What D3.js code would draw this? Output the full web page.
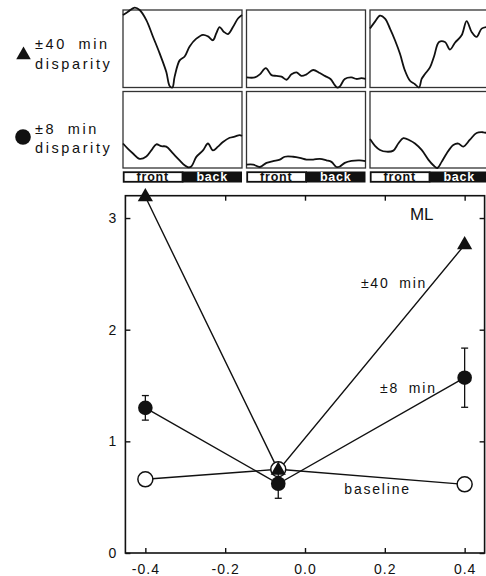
<!DOCTYPE html>
<html>
<head>
<meta charset="utf-8">
<script src="https://cdn.jsdelivr.net/npm/d3@7"></script>
<style>
    body { margin: 0; background: #fff; }
    svg { display: block; font-family: "Liberation Sans", Arial, sans-serif; }
</style>
</head>
<body>
<svg id="figure" width="486" height="576"></svg>
<script>

// Main plot values (disparity on x, response on y)
const disparities = [-0.4, -0.067, 0.4];
const response40 = [3.19, 0.74, 2.76];
const response8 = [1.30, 0.62, 1.57];
const error8 = [0.11, 0.13, 0.265];
const responseBaseline = [0.66, 0.75, 0.615];

const xTickValues = [-0.4, -0.2, 0.0, 0.2, 0.4];
const yTickValues = [0, 1, 2, 3];

// Small tuning curve panels: [fraction across panel, fraction of panel height]
const curve40Left = [[0,.935],[.042,.978],[.098,1.03],[.14,1.0],[.196,.87],[.252,.655],[.308,.44],[.364,.20],[.392,.02],[.415,0],[.434,.14],[.476,.35],[.518,.40],[.56,.53],[.616,.63],[.672,.68],[.714,.66],[.756,.61],[.784,.70],[.812,.78],[.846,.72],[.882,.69],[.924,.78],[.966,.89],[1,.935]];
const curve40Middle = [[0,.13],[.07,.13],[.112,.17],[.162,.25],[.21,.16],[.252,.15],[.294,.14],[.336,.10],[.378,.17],[.42,.195],[.462,.15],[.504,.17],[.56,.226],[.616,.187],[.658,.15],[.706,.11],[.742,.03],[.762,0],[.784,.013],[.826,.11],[.882,.13],[.924,.11],[.966,.12],[1,.11]];
const curve40Right = [[0,.76],[.042,.85],[.084,.926],[.126,.89],[.168,.76],[.21,.61],[.252,.435],[.294,.217],[.336,.087],[.378,.043],[.412,0],[.434,.11],[.462,.174],[.504,.26],[.538,.40],[.58,.587],[.63,.587],[.672,.49],[.714,.578],[.77,.674],[.812,.857],[.854,.717],[.896,.652],[.938,.76],[.98,.78]];
const curve8Left = [[0,.32],[.042,.25],[.084,.19],[.14,.12],[.196,.15],[.238,.23],[.28,.31],[.322,.285],[.364,.28],[.42,.19],[.476,.10],[.518,.035],[.546,.01],[.574,.02],[.616,.145],[.672,.23],[.714,.32],[.756,.23],[.798,.28],[.84,.34],[.896,.395],[.938,.41],[.98,.43],[1,.42]];
const curve8Middle = [[0,.044],[.056,.044],[.112,.013],[.168,.067],[.224,.09],[.28,.11],[.322,.147],[.392,.147],[.448,.133],[.504,.11],[.56,.11],[.616,.12],[.672,.10],[.714,.08],[.756,.013],[.784,.02],[.826,.067],[.882,.093],[.952,.10],[1,.09]];
const curve8Right = [[0,.378],[.042,.29],[.084,.236],[.14,.213],[.196,.227],[.238,.32],[.28,.39],[.336,.36],[.378,.32],[.434,.236],[.49,.11],[.532,.036],[.566,0],[.602,.08],[.644,.19],[.7,.30],[.742,.32],[.784,.28],[.84,.37],[.896,.458],[.952,.467],[.98,.458]];

const barLabels = ["front", "back"];

let figure = {
    svg : d3.select("#figure"),
    ink : "#111",

    panelLefts : [123, 246.5, 370],
    panelWidth : 119,
    rowTops : [10, 91.5],
    rowHeights : [77.5, 76.5],
    barTop : 171.5,
    barHeight : 11,

    x : null,
    y : null
};

drawLegend();
drawPanels();
drawMainChart();

// Symbols and text on the left of the small panels
function drawLegend() {
    let legend = figure.svg.append("g");

    legend.append("path")
        .attr("d", d3.symbol(d3.symbolTriangle).size(92)())
        .attr("transform", "translate(23.5,55)")
        .style("fill", figure.ink);

    legend.append("circle")
        .attr("cx", 23).attr("cy", 137)
        .attr("r", 7.8)
        .style("fill", figure.ink);

    let lines = [
        {text: "±40 min", y: 48.5},
        {text: "disparity", y: 68.5},
        {text: "±8 min", y: 133.5},
        {text: "disparity", y: 153}
    ];

    legend.selectAll("text")
        .data(lines)
        .enter()
        .append("text")
        .attr("x", 35)
        .attr("y", d => d.y)
        .style("font-size", "14.5px")
        .style("letter-spacing", "2.6px")
        .style("word-spacing", "5px")
        .style("fill", figure.ink)
        .text(d => d.text);
}

// Six small tuning curve panels plus the front/back bars
function drawPanels() {
    let rows = [
        [curve40Left, curve40Middle, curve40Right],
        [curve8Left, curve8Middle, curve8Right]
    ];

    let px = d3.scaleLinear().domain([0, 1]).range([0, figure.panelWidth]);

    rows.forEach(function (curves, r) {
        let py = d3.scaleLinear().domain([0, 1]).range([figure.rowHeights[r], 0]);

        curves.forEach(function (curve, c) {
            let panel = figure.svg.append("g")
                .attr("transform", "translate(" + figure.panelLefts[c] + "," + figure.rowTops[r] + ")");

            panel.append("rect")
                .attr("width", figure.panelWidth)
                .attr("height", figure.rowHeights[r])
                .style("fill", "none")
                .style("stroke", "#333")
                .style("stroke-width", 1.3);

            panel.append("path")
                .datum(curve)
                .attr("d", d3.line()
                    .x(d => px(d[0]))
                    .y(d => py(d[1]))
                    .curve(d3.curveCatmullRom.alpha(0.5)))
                .style("fill", "none")
                .style("stroke", figure.ink)
                .style("stroke-width", 1.8);
        });
    });

    // front / back bars under each column
    figure.panelLefts.forEach(function (left) {
        let bar = figure.svg.append("g")
            .attr("transform", "translate(" + left + "," + figure.barTop + ")");
        let half = figure.panelWidth / 2;

        bar.append("rect")
            .attr("x", 0.7).attr("y", 0.7)
            .attr("width", half - 0.7)
            .attr("height", figure.barHeight - 1.4)
            .style("fill", "#fff")
            .style("stroke", figure.ink)
            .style("stroke-width", 1.8);

        bar.append("rect")
            .attr("x", half)
            .attr("width", half)
            .attr("height", figure.barHeight)
            .style("fill", figure.ink);

        bar.selectAll("text")
            .data(barLabels)
            .enter()
            .append("text")
            .attr("x", (d, i) => half * i + half / 2)
            .attr("y", figure.barHeight - 1.2)
            .attr("text-anchor", "middle")
            .style("font-size", "12.5px")
            .style("font-weight", "bold")
            .style("letter-spacing", "0.8px")
            .style("fill", (d, i) => i === 0 ? figure.ink : "#fff")
            .text(d => d);
    });
}

// The large disparity / response plot
function drawMainChart() {
    figure.x = d3.scaleLinear().domain([-0.45, 0.45]).range([125.4, 484.6]);
    figure.y = d3.scaleLinear().domain([0, 3.2]).range([553, 195.7]);

    let x = figure.x, y = figure.y;
    let chart = figure.svg.append("g");
    let [x0, x1] = x.range();
    let [y0, y1] = y.range();

    // Frame
    chart.append("rect")
        .attr("x", x0).attr("y", y1)
        .attr("width", x1 - x0).attr("height", y0 - y1)
        .style("fill", "none")
        .style("stroke", figure.ink)
        .style("stroke-width", 1.6);

    // Axes with inward ticks
    let axes = [
        {axis: d3.axisBottom(x).tickValues(xTickValues).tickFormat(d => d.toFixed(1)).tickPadding(11), t: "translate(0," + y0 + ")"},
        {axis: d3.axisTop(x).tickValues(xTickValues).tickFormat(""), t: "translate(0," + y1 + ")"},
        {axis: d3.axisLeft(y).tickValues(yTickValues).tickFormat(d3.format("d")).tickPadding(8), t: "translate(" + x0 + ",0)"},
        {axis: d3.axisRight(y).tickValues(yTickValues).tickFormat(""), t: "translate(" + x1 + ",0)"}
    ];

    axes.forEach(function (a) {
        let g = chart.append("g")
            .attr("transform", a.t)
            .call(a.axis.tickSizeInner(-5).tickSizeOuter(0));
        g.select(".domain").remove();
        g.selectAll("line").style("stroke", figure.ink).style("stroke-width", 1.4);
        g.selectAll("text")
            .style("font-family", "\"Liberation Sans\", Arial, sans-serif")
            .style("font-size", "14px")
            .style("letter-spacing", "1px")
            .style("fill", figure.ink);
    });

    let line = d3.line()
        .x(d => x(d.x))
        .y(d => y(d.v));

    let toPoints = values => values.map((v, i) => ({x: disparities[i], v: v, e: error8[i]}));
    let points40 = toPoints(response40);
    let points8 = toPoints(response8);
    let pointsBase = toPoints(responseBaseline);

    // Connecting lines
    [pointsBase, points40, points8].forEach(function (pts) {
        chart.append("path")
            .datum(pts)
            .attr("d", line)
            .style("fill", "none")
            .style("stroke", figure.ink)
            .style("stroke-width", 1.4);
    });

    // Baseline open circles
    chart.append("g")
        .selectAll("circle")
        .data(pointsBase)
        .enter()
        .append("circle")
        .attr("cx", d => x(d.x))
        .attr("cy", d => y(d.v))
        .attr("r", 7.5)
        .style("fill", "#fff")
        .style("stroke", figure.ink)
        .style("stroke-width", 1.5);

    // ±40 min triangles
    chart.append("g")
        .selectAll("path")
        .data(points40)
        .enter()
        .append("path")
        .attr("d", d3.symbol(d3.symbolTriangle).size(100)())
        .attr("transform", d => "translate(" + x(d.x) + "," + y(d.v) + ")")
        .style("fill", figure.ink);

    // ±8 min error bars
    let bars = chart.append("g")
        .selectAll("g")
        .data(points8)
        .enter()
        .append("g")
        .style("stroke", figure.ink)
        .style("stroke-width", 1.3);

    bars.append("line")
        .attr("x1", d => x(d.x)).attr("x2", d => x(d.x))
        .attr("y1", d => y(d.v - d.e)).attr("y2", d => y(d.v + d.e));

    [-1, 1].forEach(function (s) {
        bars.append("line")
            .attr("x1", d => x(d.x) - 3.5).attr("x2", d => x(d.x) + 3.5)
            .attr("y1", d => y(d.v + s * d.e)).attr("y2", d => y(d.v + s * d.e));
    });

    // ±8 min filled circles
    chart.append("g")
        .selectAll("circle")
        .data(points8)
        .enter()
        .append("circle")
        .attr("cx", d => x(d.x))
        .attr("cy", d => y(d.v))
        .attr("r", 7.3)
        .style("fill", figure.ink);

    // Labels inside the plot
    let labels = [
        {text: "ML", x: 0.263, v: 2.985, size: 17, spacing: 0},
        {text: "±40 min", x: 0.14, v: 2.37, size: 14, spacing: 1.8},
        {text: "±8 min", x: 0.188, v: 1.435, size: 14, spacing: 1.8},
        {text: "baseline", x: 0.0985, v: 0.525, size: 14, spacing: 1.8}
    ];

    chart.append("g")
        .selectAll("text")
        .data(labels)
        .enter()
        .append("text")
        .attr("x", d => x(d.x))
        .attr("y", d => y(d.v))
        .style("font-size", d => d.size + "px")
        .style("letter-spacing", d => d.spacing + "px")
        .style("word-spacing", "4px")
        .style("fill", figure.ink)
        .text(d => d.text);
}

</script>
</body>
</html>
